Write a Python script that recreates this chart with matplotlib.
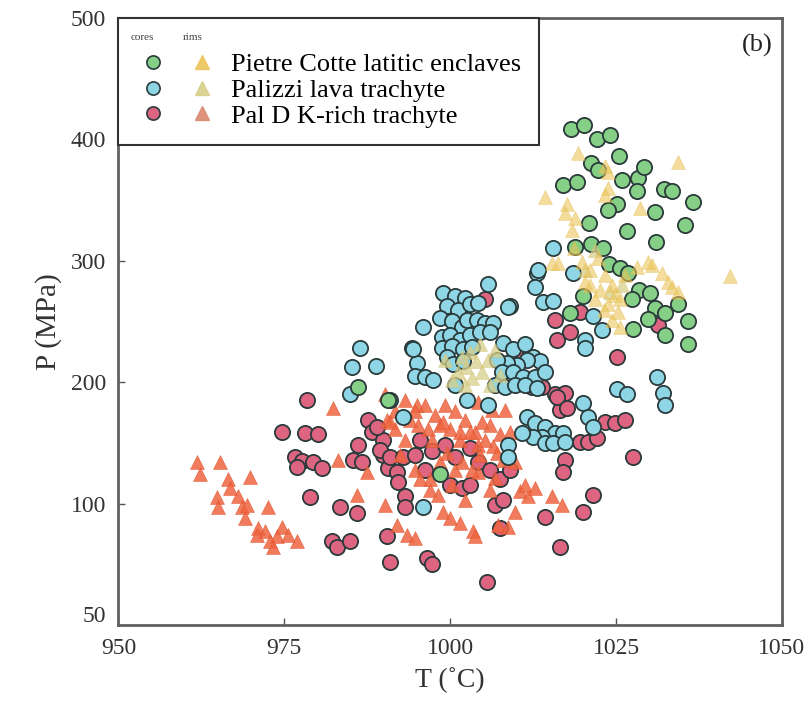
import matplotlib
matplotlib.use("Agg")
import matplotlib.pyplot as plt
from matplotlib.lines import Line2D
from matplotlib.legend_handler import HandlerTuple

plt.rcParams['font.family'] = ['Liberation Serif', 'DejaVu Serif']

# ---- Pietre Cotte latitic enclaves: cores (T, P) ----
pc_core_T = [1018.2, 1020.2, 1022.1, 1024.1, 1025.4, 1021.2, 1022.3, 1017.0, 1019.1, 1025.9,
             1028.3, 1029.2, 1028.1, 1032.2, 1033.4, 1036.6, 1025.1, 1023.8, 1030.9, 1020.9,
             1026.6, 1035.4, 1031.0, 1018.8, 1021.2, 1023.0, 1023.9, 1025.6, 1026.8, 1028.5,
             1030.1, 1027.4, 1030.9, 1034.3, 1032.4, 1035.8, 1029.8, 1027.5, 1032.4, 1035.8,
             1020.0, 1018.0, 986.1, 990.6, 998.4]
pc_core_P = [408, 412, 400, 403, 386, 380, 375, 362, 365, 366,
             368, 377, 357, 359, 357, 348, 347, 342, 340, 331,
             324, 329, 315, 311, 314, 310, 297, 294, 290, 276,
             273, 268, 261, 264, 257, 250, 252, 244, 239, 231,
             271, 257, 196, 185, 124]

# ---- Pietre Cotte latitic enclaves: rims ----
pc_rim_T = [1019.3, 1034.3, 1014.3, 1017.6, 1023.3, 1023.8, 1023.8, 1028.6, 1018.8, 1042.2,
            1019.9, 1021.1, 1022.3, 1023.3, 1024.4, 1022.6, 1021.1, 1024.8, 1025.6, 1023.8,
            1021.8, 1020.3, 1025.3, 1024.4, 1028.1, 1030.4, 1031.9, 1032.8, 1034.3, 1033.4,
            1025.6, 1016.2, 1018.6, 1026.3, 1029.8, 1023.2, 1018.4, 1023.3, 1017.3, 1015.4]
pc_rim_P = [389, 381, 352, 347, 378, 373, 360, 343, 335, 287,
            299, 292, 302, 288, 280, 276, 280, 272, 268, 264,
            268, 282, 258, 251, 295, 296, 290, 282, 274, 278,
            245, 298, 310, 288, 299, 259, 325, 354, 339, 298]

# ---- Palizzi lava trachyte: cores ----
pz_core_T = [998.9, 1000.7, 1002.2, 999.5, 1001.2, 998.5, 1000.3, 1001.8, 1005.7, 1013.1,
             1012.8, 1014.0, 1015.5, 1009.0, 1003.0, 1004.2, 1002.5, 1004.0, 1005.2, 1006.4,
             995.9, 998.8, 1000.0, 1001.5, 1003.0, 1004.5, 1006.0, 994.2, 998.8, 1000.3,
             1001.9, 1003.3, 988.8, 995.0, 994.7, 996.2, 997.4, 999.5, 1000.4, 1000.7,
             1008.0, 1009.5, 1011.3, 1012.5, 1013.5, 1011.6, 1010.1, 1008.6, 1007.0, 1007.8,
             1009.5, 1011.0, 1012.8, 1014.3, 1006.7, 1008.3, 1005.7, 1002.5, 1011.6, 1012.8,
             1014.3, 1015.8, 1017.0, 1013.8, 1012.5, 1010.8, 1014.3, 1015.5, 1015.5, 1013.2,
             1008.7, 1020.3, 1022.9, 1021.5, 1018.5, 1009.8, 1011.3, 1013.1, 1020.3, 1025.1,
             1026.6, 1031.2, 1032.1, 1032.4, 1020.0, 1020.8, 1021.5, 1017.3, 1008.7, 1008.7,
             986.4, 994.4, 985.2, 990.9, 984.9, 992.9, 995.9, 1001.9]
pz_core_P = [273, 271, 269, 263, 259, 253, 250, 245, 281, 290,
             278, 266, 267, 263, 264, 265, 251, 251, 249, 249,
             245, 237, 239, 235, 239, 241, 241, 228, 228, 230,
             227, 229, 213, 216, 205, 204, 202, 221, 215, 198,
             232, 227, 231, 221, 217, 218, 214, 216, 218, 208,
             208, 204, 204, 208, 198, 196, 181, 185, 171, 166,
             163, 158, 158, 155, 155, 158, 150, 150, 310, 292,
             262, 235, 243, 254, 290, 198, 198, 195, 228, 194,
             190, 204, 191, 181, 183, 171, 163, 151, 148, 138,
             228, 227, 212, 185, 190, 171, 97, 217]

# ---- Palizzi lava trachyte: rims ----
pz_rim_T = [1001.8, 1003.0, 1003.9, 1002.4, 1004.8, 1003.3, 1001.2, 1005.7, 1000.3, 1006.8,
            1004.5, 999.2, 1007.5, 1006.0, 1002.2, 1021.8, 1024.1, 1025.9, 1020.3]
pz_rim_P = [221, 225, 217, 212, 208, 203, 208, 218, 202, 226,
            231, 218, 206, 198, 198, 309, 274, 280, 292]

# ---- Pal D K-rich trachyte: cores ----
pd_core_T = [978.4, 974.6, 978.1, 980.1, 976.6, 977.7, 979.3, 980.7, 976.9, 978.9,
             983.4, 985.9, 982.2, 982.9, 984.9, 990.5, 990.9, 996.5, 997.3, 993.2,
             993.2, 986.1, 985.3, 986.7, 987.6, 988.2, 989.9, 989.9, 990.6, 992.0,
             992.1, 1000.0, 1001.8, 1025.1, 1015.8, 1017.3, 1016.5, 1023.3, 1024.8, 1026.3,
             1019.6, 1020.8, 1022.1, 1017.3, 1017.0, 1027.5, 1021.5, 1020.0, 1014.3, 1016.5,
             1005.5, 1012.3, 1013.8, 1009.8, 1007.5, 1015.8, 1018.0, 1019.6, 1031.3, 1005.2,
             1016.1, 1016.1, 1017.6, 989.4, 990.9, 992.9, 989.0, 995.4, 997.2, 999.2,
             1000.7, 1003.0, 1004.2, 1006.0, 1007.5, 1009.0, 1003.0, 996.2, 994.7, 1006.7,
             1008.0]
pd_core_P = [185, 159, 158, 157, 138, 135, 134, 129, 130, 105,
             97, 92, 69, 64, 69, 73, 52, 55, 50, 106,
             97, 148, 136, 134, 169, 159, 152, 140, 129, 126,
             118, 115, 113, 221, 190, 191, 177, 167, 166, 169,
             151, 151, 154, 136, 126, 138, 107, 93, 89, 64,
             35, 196, 196, 225, 80, 251, 241, 258, 247, 268,
             235, 188, 179, 144, 138, 138, 163, 152, 143, 148,
             138, 146, 134, 128, 120, 128, 115, 128, 140, 99,
             103]

# ---- Pal D K-rich trachyte: rims ----
pd_rim_T = [961.8, 962.3, 965.3, 966.5, 966.8, 969.8, 964.8, 965.0, 968.0, 968.6,
            969.1, 969.4, 972.5, 971.0, 972.1, 972.8, 973.9, 974.6, 975.5, 976.9,
            973.3, 970.9, 982.3, 983.1, 987.5, 985.9, 990.2, 992.0, 993.5, 994.7,
            995.0, 997.0, 998.9, 1000.0, 1001.5, 1004.2, 1006.7, 1003.4, 1007.2, 1009.8,
            1010.5, 1011.7, 1011.3, 1012.8, 1015.3, 1016.8, 1009.0, 1009.8, 1006.4, 1004.2,
            1004.8, 1003.7, 993.2, 994.7, 996.2, 997.7, 999.2, 1000.7, 1002.2, 998.5,
            996.6, 995.1, 1000.0, 1001.5, 1003.0, 1006.0, 1007.5, 1000.7, 998.5, 997.0,
            994.7, 993.2, 991.7, 990.5, 992.4, 1004.5, 1006.0, 1002.2, 1008.0, 1006.3,
            990.2, 991.7, 1003.7, 1008.7, 998.9, 1001.5, 990.9,
            994.0, 997.2, 999.5, 1001.8, 1003.3, 1005.2, 1007.0, 1000.3, 998.2, 995.4,
            1008.3, 1004.2]
pd_rim_P = [134, 124, 134, 120, 113, 122, 105, 97, 106, 97,
            88, 99, 97, 80, 77, 69, 73, 81, 74, 69,
            64, 74, 179, 136, 126, 107, 99, 82, 74, 72,
            181, 111, 93, 88, 84, 126, 121, 77, 82, 93,
            110, 106, 115, 113, 106, 99, 159, 134, 147, 148,
            167, 159, 185, 176, 181, 173, 181, 176, 169, 165,
            161, 165, 161, 152, 159, 165, 157, 128, 134, 120,
            128, 152, 161, 169, 140, 140, 111, 103, 136, 177,
            190, 176, 73, 81, 167, 159, 167,
            169, 152, 142, 134, 128, 152, 142, 115, 107, 120,
            177, 184]

series_labels = ["Pietre Cotte latitic enclaves", "Palizzi lava trachyte", "Pal D K-rich trachyte"]
x_ticks = [950, 975, 1000, 1025, 1050]
y_ticks = [9, 100, 200, 300, 400, 500]
y_tick_labels = ["50", "100", "200", "300", "400", "500"]

green = "#86cf86"
cyan = "#8ed6e6"
pink = "#de6582"
gold = "#ecc55a"
khaki = "#d8cf8a"
orange = "#ef6540"
edge = "#2a3a3a"

fig = plt.figure(figsize=(8.05, 7.04), dpi=100)
ax = fig.add_axes([0.1472, 0.1122, 0.8242, 0.8627])

circ = dict(marker="o", s=120, linewidths=1.3, edgecolors=edge)
tri = dict(marker="^", s=100, linewidths=0.4)

ax.scatter(pd_core_T, pd_core_P, c=pink, zorder=2, **circ)
ax.scatter(pd_rim_T, pd_rim_P, c=orange, edgecolors="#e0502c", alpha=0.85, zorder=3, **tri)
ax.scatter(pz_core_T, pz_core_P, c=cyan, zorder=4, **circ)
ax.scatter(pc_core_T, pc_core_P, c=green, zorder=5, **circ)
ax.scatter(pz_rim_T, pz_rim_P, c=khaki, edgecolors="#cfc070", alpha=0.75, zorder=6, **tri)
ax.scatter(pc_rim_T, pc_rim_P, c=gold, edgecolors="#e2b840", alpha=0.6, zorder=7, **tri)

ax.set_xlim(950, 1050)
ax.set_ylim(0, 500)
ax.set_xticks(x_ticks)
ax.set_xticklabels([str(v) for v in x_ticks])
ax.set_yticks(y_ticks)
ax.set_yticklabels(y_tick_labels)
ax.yaxis.get_major_ticks()[0].tick1line.set_visible(False)
ax.tick_params(direction="in", length=5, width=1, color="#555555",
               labelsize=17, pad=9, labelcolor="#333333")
for sp in ax.spines.values():
    sp.set_linewidth(2)
    sp.set_color("#606060")

ax.set_xlabel("T (˚C)", fontsize=20, color="#333333", labelpad=6)
ax.set_ylabel("P (MPa)", fontsize=21, color="#333333", labelpad=6)

ax.text(0.962, 0.955, "(b)", transform=ax.transAxes, fontsize=19,
        ha="center", va="center", color="#222222")

# legend: core circle and rim triangle side by side for each unit
handles = []
rim_cols = [gold, khaki, "#d98a6e"]
core_cols = [green, cyan, pink]
for cc, rc in zip(core_cols, rim_cols):
    h1 = Line2D([], [], marker="o", ls="none", markersize=9.5, markerfacecolor=cc,
                markeredgecolor=edge, markeredgewidth=1.2)
    h2 = Line2D([], [], marker="^", ls="none", markersize=9.5, markerfacecolor=rc,
                markeredgecolor=rc, alpha=0.9)
    handles.append((h1, h2))
leg = ax.legend(handles, series_labels, loc="upper left", bbox_to_anchor=(0, 1),
                borderaxespad=0, fontsize=19, handlelength=3.15, handletextpad=0.48,
                labelspacing=0.08, borderpad=0.65, fancybox=False, framealpha=1,
                title=" ", title_fontsize=12,
                handler_map={tuple: HandlerTuple(ndivide=None, pad=0.57)})
leg.get_frame().set_edgecolor("#333333")
leg.get_frame().set_linewidth(1.5)
leg.set_zorder(10)
ax.text(0.019, 0.968, "cores", transform=ax.transAxes, fontsize=8, color="#444444",
        va="center", zorder=11)
ax.text(0.097, 0.968, "rims", transform=ax.transAxes, fontsize=8, color="#444444",
        va="center", zorder=11)

fig.savefig("out.png", dpi=100)
